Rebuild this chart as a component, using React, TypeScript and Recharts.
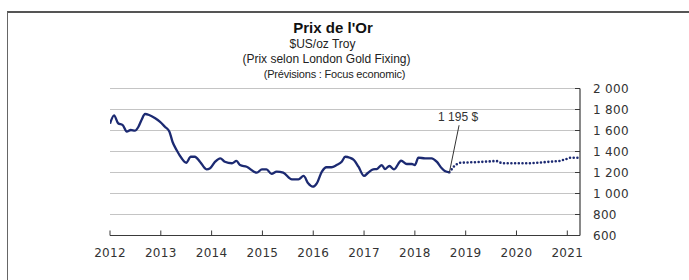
import React from 'react';
import { LineChart, Line, XAxis, YAxis, CartesianGrid, ReferenceLine, ReferenceDot } from 'recharts';

const actualYears = [
  2012.0, 2012.08, 2012.16, 2012.25, 2012.33, 2012.41, 2012.49, 2012.56, 2012.62, 2012.69,
  2012.77, 2012.89, 2012.98, 2013.08, 2013.17, 2013.23, 2013.31, 2013.41, 2013.5, 2013.59,
  2013.67, 2013.77, 2013.9, 2013.97, 2014.07, 2014.17, 2014.26, 2014.4, 2014.49, 2014.56,
  2014.69, 2014.89, 2014.99, 2015.08, 2015.18, 2015.28, 2015.41, 2015.58, 2015.71, 2015.81,
  2015.9, 2015.99, 2016.07, 2016.17, 2016.26, 2016.36, 2016.46, 2016.56, 2016.63, 2016.72,
  2016.8, 2016.89, 2017.0, 2017.08, 2017.18, 2017.25, 2017.35, 2017.41, 2017.5, 2017.59,
  2017.73, 2017.84, 2017.94, 2018.0, 2018.07, 2018.2, 2018.33, 2018.43, 2018.53, 2018.59,
  2018.68,
];
const actualValues = [
  1665, 1745, 1669, 1652, 1589, 1605, 1598, 1636, 1700, 1757,
  1748, 1716, 1684, 1636, 1589, 1493, 1414, 1335, 1293, 1350,
  1350, 1303, 1230, 1240, 1303, 1335, 1303, 1288, 1310, 1271,
  1255, 1198, 1230, 1230, 1186, 1208, 1198, 1135, 1135, 1167,
  1097, 1065, 1097, 1208, 1250, 1250, 1271, 1303, 1350, 1341,
  1319, 1255, 1167, 1198, 1230, 1233, 1271, 1233, 1262, 1230,
  1312, 1281, 1281, 1271, 1341, 1335, 1335, 1303, 1240, 1214,
  1202,
];
const forecastYears = [2018.68, 2018.79, 2018.89, 2019.28, 2019.61, 2019.71, 2020.27, 2020.86, 2021.06, 2021.21];
const forecastValues = [1202, 1271, 1293, 1300, 1310, 1288, 1288, 1310, 1341, 1341];

const yearTicks = [2012, 2013, 2014, 2015, 2016, 2017, 2018, 2019, 2020, 2021];
const valueTicks = [600, 800, 1000, 1200, 1400, 1600, 1800, 2000];

const annotationText = '1 195 $';
const annotationFrom = { x: 2018.68, y: 1202 };
const annotationTo = { x: 2018.87, y: 1650 };
const annotationLabelAt = { x: 2018.87, y: 1650 };

const actualData = actualYears.map((t, i) => ({ t, v: actualValues[i] }));
const forecastData = forecastYears.map((t, i) => ({ t, v: forecastValues[i] }));

const fmt = (v: number) => {
  const s = String(v);
  return s.length > 3 ? s.slice(0, s.length - 3) + '\u00a0' + s.slice(-3) : s;
};

const YTick = (props: any) => {
  const { x, y, payload } = props;
  return (
    <g>
      <line x1={x - 5} x2={x} y1={y} y2={y} stroke="#3a3a3a" strokeWidth={1} />
      <text x={x + 13} y={y + 4.5} fontFamily="DejaVu Sans, Verdana, sans-serif" fontSize={12} letterSpacing={0.3} fill="#333" textAnchor="start">
        {fmt(payload.value)}
      </text>
    </g>
  );
};

const XTick = (props: any) => {
  const { x, y, payload } = props;
  return (
    <g>
      <line x1={x} x2={x} y1={y - 5} y2={y} stroke="#3a3a3a" strokeWidth={1} />
      <text x={x} y={y + 21} fontFamily="DejaVu Sans, Verdana, sans-serif" fontSize={12} letterSpacing={0.3} fill="#333" textAnchor="middle">
        {payload.value}
      </text>
    </g>
  );
};

const AnnotationLabel = (props: any) => {
  const { cx, cy } = props;
  return (
    <text x={cx - 1} y={cy - 4} fontFamily="Liberation Sans, Arial, sans-serif" fontSize={12} fill="#333" textAnchor="middle">
      {annotationText}
    </text>
  );
};

export default function App() {
  return (
    <div style={{ position: 'absolute', left: 0, top: 0, width: 689, height: 280, background: '#fff', overflow: 'hidden' }}>
      <div style={{ position: 'absolute', left: 7, top: 11, width: 682, height: 269, borderTop: '2px solid #555', borderLeft: '1px solid #666' }} />
      <svg style={{ position: 'absolute', left: 0, top: 0 }} width={689} height={90}>
        <text x={333} y={33} textAnchor="middle" fontFamily="Liberation Sans, Arial, sans-serif" fontWeight="bold" fontSize={15} fill="#111">Prix de l'Or</text>
        <text x={322.5} y={48} textAnchor="middle" fontFamily="Liberation Sans, Arial, sans-serif" fontSize={12} fill="#222">$US/oz Troy</text>
        <text x={326.5} y={63} textAnchor="middle" fontFamily="Liberation Sans, Arial, sans-serif" fontSize={12} fill="#222">(Prix selon London  Gold Fixing)</text>
        <text x={334.5} y={77.5} textAnchor="middle" fontFamily="Liberation Sans, Arial, sans-serif" fontSize={11} letterSpacing={-0.2} fill="#222">(Prévisions : Focus economic)</text>
      </svg>
      <div style={{ position: 'absolute', left: 0, top: 0 }}>
        <LineChart width={689} height={280} margin={{ top: 88.5, right: 0, bottom: 14.5, left: 110 }}>
          <CartesianGrid horizontal vertical={false} stroke="#c4c4c4" strokeWidth={1} />
          <XAxis
            type="number"
            dataKey="t"
            domain={[2012, 2021.25]}
            ticks={yearTicks}
            interval={0}
            allowDataOverflow
            height={30}
            tickLine={false}
            tickSize={0}
            tickMargin={0}
            tick={<XTick />}
            axisLine={{ stroke: '#3a3a3a', strokeWidth: 1.2 }}
          />
          <YAxis
            orientation="right"
            type="number"
            domain={[600, 2000]}
            ticks={valueTicks}
            interval={0}
            width={109}
            tickLine={false}
            tickSize={0}
            tickMargin={0}
            tick={<YTick />}
            axisLine={{ stroke: '#3a3a3a', strokeWidth: 1.2 }}
          />
          <Line
            data={actualData}
            dataKey="v"
            type="monotone"
            stroke="#1c2a72"
            strokeWidth={2.3}
            dot={false}
            isAnimationActive={false}
          />
          <Line
            data={forecastData}
            dataKey="v"
            type="linear"
            stroke="#1c2a72"
            strokeWidth={2.6}
            strokeDasharray="0 3.7"
            strokeLinecap="round"
            dot={false}
            isAnimationActive={false}
          />
          <ReferenceLine
            segment={[annotationFrom, annotationTo]}
            stroke="#333"
            strokeWidth={1}
            ifOverflow="visible"
          />
          <ReferenceDot
            x={annotationLabelAt.x}
            y={annotationLabelAt.y}
            r={0}
            ifOverflow="visible"
            shape={<AnnotationLabel />}
          />
        </LineChart>
      </div>
    </div>
  );
}
